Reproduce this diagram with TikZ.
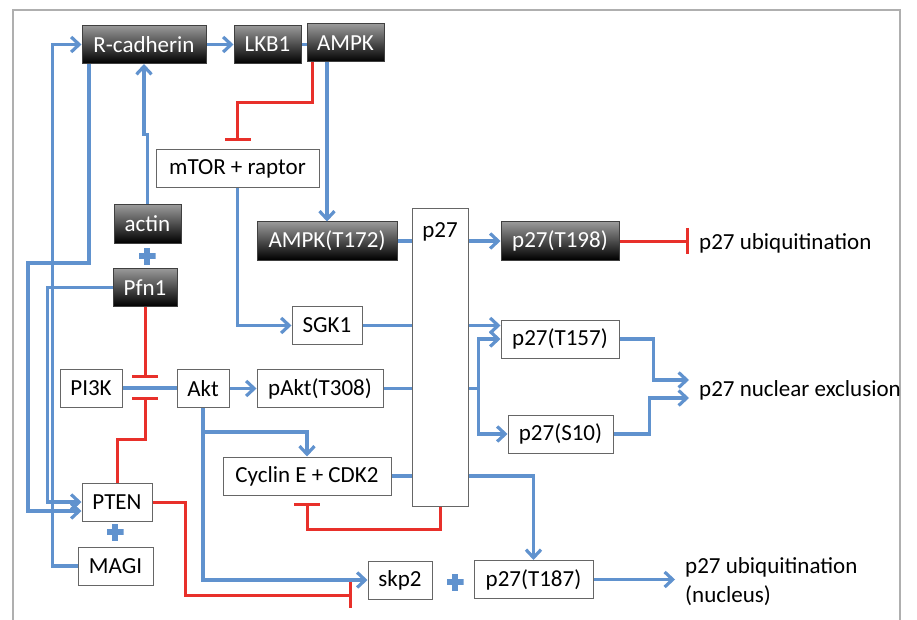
\documentclass[tikz,border=0pt]{standalone}
\usepackage{fontspec}
\setmainfont{Carlito}
\usetikzlibrary{arrows.meta}
\definecolor{linkblue}{RGB}{96,146,206}
\definecolor{inhred}{RGB}{232,48,42}
\definecolor{framegray}{RGB}{175,175,175}

\begin{document}
\begin{tikzpicture}[
  x=1pt, y=-1pt,
  font=\fontsize{23}{29}\selectfont,
  box/.style={
    rectangle, inner sep=0pt, minimum height=38pt,
    draw=black!60, fill=white, line width=1pt
  },
  darkbox/.style={
    box, draw=black!75, top color=black!40, bottom color=black, text=white
  },
  tag/.style={anchor=west, inner sep=10pt, align=left},
  plusmark/.style={
    minimum size=17pt, inner sep=0pt, fill=white,
    path picture={
      \fill[linkblue] ([xshift=-3pt]path picture bounding box.north)
        rectangle ([xshift=3pt]path picture bounding box.south);
      \fill[linkblue] ([yshift=3pt]path picture bounding box.west)
        rectangle ([yshift=-3pt]path picture bounding box.east);
    }
  },
  link/.style={draw=linkblue, line width=3.2pt},
  act/.style={link, -{Straight Barb[length=8pt, width=15pt]}},
  inh/.style={draw=inhred, line width=3pt, -{Bar[width=26pt]}},
]
\useasboundingbox (0,0) rectangle (917,620);

% Frame
\draw[framegray, line width=1.5pt] (13,630) -- (13,10) -- (900,10) -- (900,630);

% Top row
\node[darkbox, minimum width=124pt] (rcad) at (144,44.5) {R-cadherin};
\node[darkbox, minimum width=67pt]  (lkb1) at (267.5,44.5) {LKB1};
\node[darkbox, minimum width=77pt]  (ampk) at (345.5,43) {AMPK};

% Left column
\node[box, minimum width=163pt]     (mtor)  at (237.5,169) {mTOR + raptor};
\node[darkbox, minimum width=67pt]  (actin) at (147.5,224) {actin};
\node[darkbox, minimum width=64pt]  (pfn1)  at (145,287.5) {Pfn1};
\node[box, minimum width=62pt]      (pik)   at (91,388) {PI3K};
\node[box, minimum width=52pt]      (akt)   at (203,388.5) {Akt};
\node[box, minimum width=70pt]      (pten)  at (117,502) {PTEN};
\node[box, minimum width=75pt]      (magi)  at (115.5,566) {MAGI};

% Middle column
\node[darkbox, minimum width=140pt] (ampkt) at (327,241) {AMPK(T172)};
\node[box, minimum width=70pt]      (sgk)   at (327,325.5) {SGK1};
\node[box, minimum width=126pt]     (pakt)  at (320,388.5) {pAkt(T308)};
\node[box, minimum width=168pt]     (cyc)   at (307,476) {Cyclin E + CDK2};
\node[box, minimum width=64pt]      (skp)   at (400,580) {skp2};

% p27 and its forms
\node[box, minimum width=56pt, minimum height=297pt,
  label={[anchor=north, inner sep=0pt, yshift=-14pt]north:p27}] (p27) at (440,357.5) {};
\node[darkbox, minimum width=118pt] (t198) at (560,241) {p27(T198)};
\node[box, minimum width=118pt]     (t157) at (560,339) {p27(T157)};
\node[box, minimum width=105pt]     (s10)  at (560.5,434) {p27(S10)};
\node[box, minimum width=119pt]     (t187) at (533.5,579.5) {p27(T187)};

% Outcomes
\node[tag] (ubi1)  at (689,243) {p27 ubiquitination};
\node[tag] (nucex) at (689,390) {p27 nuclear exclusion};
\node[tag] (ubi2)  at (675,582) {p27 ubiquitination\\(nucleus)};

% Complex marks
\node[plusmark] (pl1) at (147,256) {};
\node[plusmark] (pl2) at (115,532) {};
\node[plusmark] (pl3) at (455,582) {};

% Top-row flows
\draw[act] (rcad) -- (lkb1);
\draw[link] (lkb1.east) -- (lkb1.east -| ampk.west);
\draw[act] (ampkt.north |- ampk.south) -- (ampkt.north);
\draw[inh] ([xshift=-33pt]ampk.south) -- ++(0,40) -| ([yshift=8pt]mtor.north);
\draw[act] (mtor.south) |- (sgk.west);

% Loops on the left
\draw[act] (actin.north) -- ++(0,-70) -| (rcad.south);
\draw[act] ([xshift=-55pt]rcad.south) -- ++(0,199) -- ++(-61,0) |- ([yshift=-9pt]pten.west);
\draw[act] (pfn1.west) -- ++(-65,0) |- (pten.west);
\draw[act] (magi.west) -- ++(-25,0) |- (rcad.west);

% PI3K -> Akt, blocked by Pfn1 and PTEN
\coordinate (gate) at (pfn1.south |- pik.east);
\draw[link] (pik.east) -- (pik.east -| akt.west);
\draw[inh] (pfn1.south) -- ([yshift=10pt]gate);
\draw[inh] (pten.north) -- ++(0,-43) -| ([yshift=-9pt]gate);
\draw[act] (akt) -- (pakt);
\draw[act] (akt.south) -- ++(0,24) -| (cyc.north);
\draw[act] (akt.south) |- (skp.west);
\draw[inh] (pten.east) -- ++(33,0) |- ([xshift=-16pt, yshift=-15pt]skp.west);

% Into p27
\draw[link] (ampkt.east) -- (ampkt.east -| p27.west);
\draw[link] (sgk.east) -- (sgk.east -| p27.west);
\draw[link] (pakt.east) -- (pakt.east -| p27.west);
\draw[link] (cyc.east) -- (cyc.east -| p27.west);
\draw[inh] (p27.south) -- ++(0,23) -| ([yshift=-7pt]cyc.south);

% Out of p27
\draw[act] (t198.west -| p27.east) -- (t198.west);
\draw[act] (sgk.east -| p27.east) -- (sgk.east -| t157.west);
\draw[act] (pakt.east -| p27.east) -- ++(10,0) |- (t157.west);
\draw[act] (pakt.east -| p27.east) -- ++(10,0) |- (s10.west);
\draw[act] (cyc.east -| p27.east) -| (t187.north);

% Outcomes
\draw[inh] (t198.east) -- (t198.east -| ubi1.west);
\draw[act] (t157.east) -- ++(34,0) |- ([yshift=10pt]nucex.west);
\draw[act] (s10.east) -- ++(36,0) |- ([yshift=-8pt]nucex.west);
\draw[act] (t187.east) -- (t187.east -| ubi2.west);

\end{tikzpicture}
\end{document}
